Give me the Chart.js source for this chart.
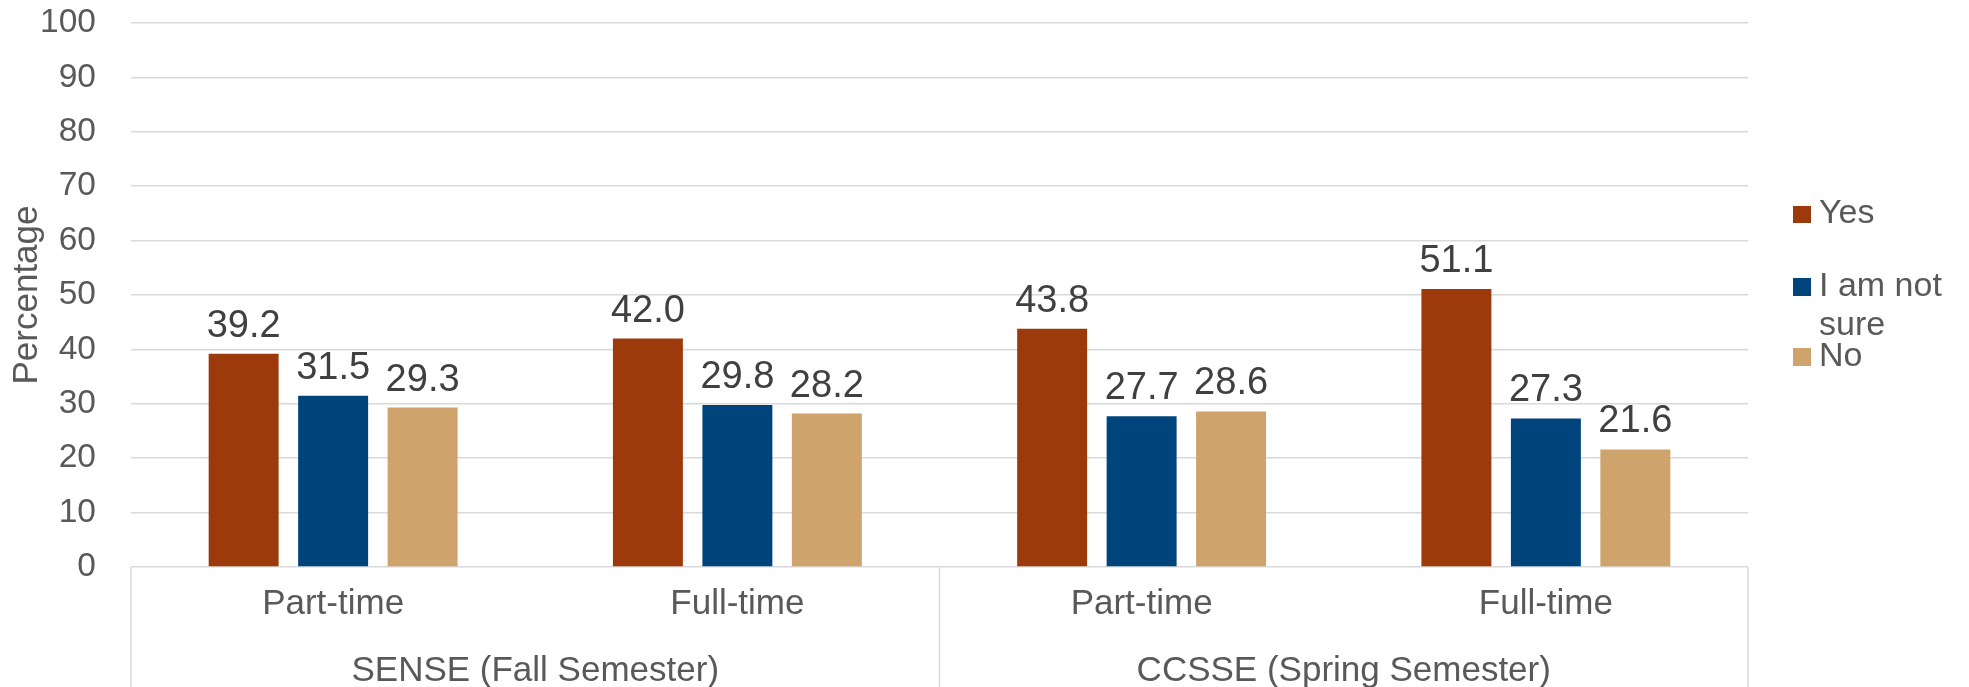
<!DOCTYPE html>
<html>
<head>
<meta charset="utf-8">
<script src="https://cdn.jsdelivr.net/npm/chart.js@4.4.0/dist/chart.umd.min.js"></script>
<style>
    html, body { margin: 0; padding: 0; background: #fff; }
    #wrap { position: relative; width: 1969px; height: 687px; overflow: hidden;
            font-family: 'Liberation Sans', Arial, sans-serif; }
    #legend .item { position: absolute; left: 1793px; color: #595959; font-size: 34px; line-height: 39px; }
    #legend .box { position: absolute; left: 0; width: 17.5px; height: 17.5px; }
    #legend .text { position: absolute; left: 26px; top: 0; width: 150px; }
</style>
</head>
<body>
<div id="wrap">
    <canvas id="chart" width="1969" height="687"></canvas>
    <div id="legend"></div>
</div>
<script>
// Chart data
const categories = ['Part-time', 'Full-time', 'Part-time', 'Full-time'];
const groups = ['SENSE (Fall Semester)', 'CCSSE (Spring Semester)'];
const seriesNames = ['Yes', 'I am not sure', 'No'];
const yesValues = [39.2, 42.0, 43.8, 51.1];
const notSureValues = [31.5, 29.8, 27.7, 27.3];
const noValues = [29.3, 28.2, 28.6, 21.6];
const seriesColors = ['#9c3a0c', '#00447c', '#cfa36c'];

const textColor = '#595959';
const gridColor = '#d9d9d9';
const fontFamily = "'Liberation Sans', Arial, sans-serif";

// value labels above each bar
const valueLabels = {
    id: 'valueLabels',
    afterDatasetsDraw(chart) {
        const ctx = chart.ctx;
        ctx.save();
        ctx.font = '38px ' + fontFamily;
        ctx.fillStyle = '#404040';
        ctx.textAlign = 'center';
        ctx.textBaseline = 'alphabetic';
        chart.data.datasets.forEach((ds, i) => {
            chart.getDatasetMeta(i).data.forEach((bar, j) => {
                ctx.fillText(ds.data[j].toFixed(1), bar.x, bar.y - 17);
            });
        });
        ctx.restore();
    }
};

// vertical separators of the two-level category axis
const groupBox = {
    id: 'groupBox',
    afterDraw(chart) {
        const x = chart.scales.x;
        const ctx = chart.ctx;
        const top = chart.chartArea.bottom;
        const mid = (x.getPixelForValue(1) + x.getPixelForValue(2)) / 2;
        ctx.save();
        ctx.strokeStyle = gridColor;
        ctx.lineWidth = 1.5;
        [x.left, mid, x.right].forEach(px => {
            ctx.beginPath();
            ctx.moveTo(px, top);
            ctx.lineTo(px, chart.height);
            ctx.stroke();
        });
        ctx.restore();
    }
};

Chart.defaults.font.family = fontFamily;

const chart = new Chart(document.getElementById('chart').getContext('2d'), {
    type: 'bar',
    data: {
        labels: categories,
        datasets: [
            { label: seriesNames[0], data: yesValues, backgroundColor: seriesColors[0] },
            { label: seriesNames[1], data: notSureValues, backgroundColor: seriesColors[1] },
            { label: seriesNames[2], data: noValues, backgroundColor: seriesColors[2] }
        ]
    },
    options: {
        responsive: false,
        animation: false,
        datasets: { bar: { categoryPercentage: 0.664, barPercentage: 0.782 } },
        layout: { padding: { top: 23, right: 221, left: 0, bottom: 0 } },
        plugins: { legend: { display: false }, tooltip: { enabled: false } },
        scales: {
            x: {
                grid: { display: false, drawTicks: false },
                border: { display: false },
                ticks: { color: textColor, font: { size: 35 }, padding: 16.5 },
                afterFit: s => { s.height = 62; }
            },
            x2: {
                type: 'category',
                labels: groups,
                position: 'bottom',
                weight: 1,
                offset: true,
                grid: { display: false, drawTicks: false },
                border: { display: false },
                ticks: { color: textColor, font: { size: 35 }, padding: 21 },
                afterFit: s => { s.height = 58; }
            },
            y: {
                min: 0,
                max: 100,
                ticks: { stepSize: 10, color: textColor, font: { size: 33.5 }, padding: 35 },
                grid: { color: gridColor, lineWidth: 1.5, drawTicks: false },
                border: { display: false },
                title: { display: true, text: 'Percentage', color: textColor,
                         font: { size: 35 }, padding: { top: 6, bottom: 0 } },
                afterFit: s => {
                    s.width = 131;
                    // tick padding would otherwise push the plot area down
                    s.paddingTop = 0;
                    s.paddingBottom = 0;
                }
            }
        }
    },
    plugins: [valueLabels, groupBox]
});

// legend, wrapped like the original
const legendTops = [192, 264.7, 334.7];
const legendEl = document.getElementById('legend');
seriesNames.forEach((name, i) => {
    const item = document.createElement('div');
    item.className = 'item';
    item.style.top = legendTops[i] + 'px';
    const box = document.createElement('div');
    box.className = 'box';
    box.style.background = seriesColors[i];
    box.style.top = '13.8px';
    const text = document.createElement('div');
    text.className = 'text';
    text.textContent = name;
    item.appendChild(box);
    item.appendChild(text);
    legendEl.appendChild(item);
});
</script>
</body>
</html>
